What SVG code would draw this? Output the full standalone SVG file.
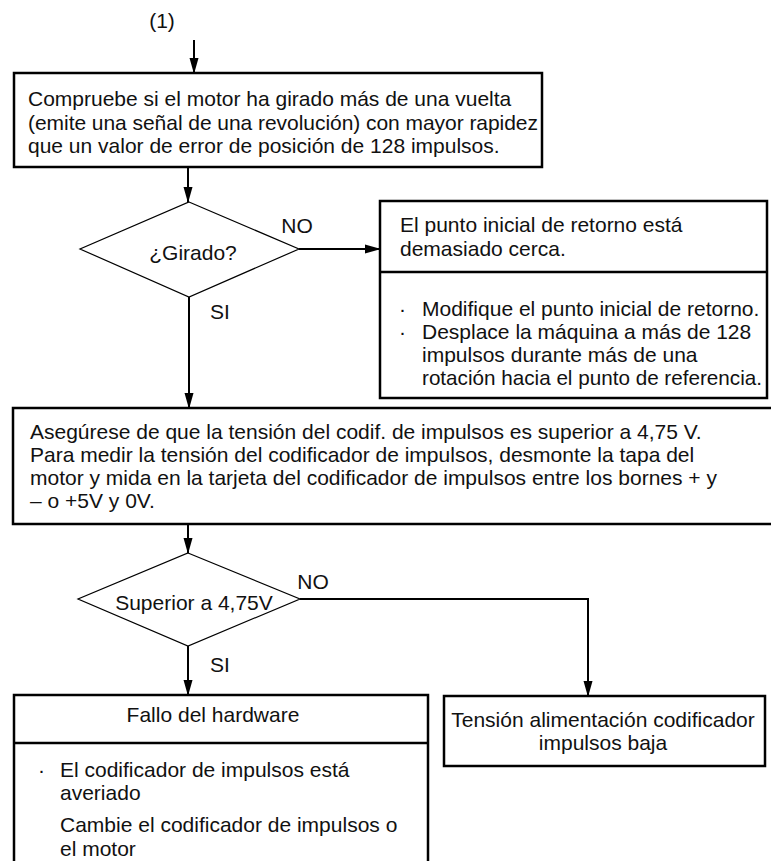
<svg xmlns="http://www.w3.org/2000/svg" width="771" height="861" viewBox="0 0 771 861">
  <defs>
    <marker id="arrow" markerWidth="16" markerHeight="10" refX="16" refY="5" orient="auto" markerUnits="userSpaceOnUse" viewBox="0 0 16 10">
      <path d="M0,0.5 L16,5 L0,9.5 z" fill="#000"/>
    </marker>
    <style>
      .box { fill: #fff; stroke: #000; stroke-width: 2.5; }
      .dia { fill: #fff; stroke: #000; stroke-width: 1.2; }
      .sep { stroke: #000; stroke-width: 2.5; }
      .wire { fill: none; stroke: #000; stroke-width: 2; }
      .arr { marker-end: url(#arrow); }
      text { font-family: "Liberation Sans", Arial, Helvetica, sans-serif; font-size: 21px; fill: #111; }
      .c { text-anchor: middle; }
    </style>
  </defs>
  <rect width="771" height="861" fill="#fff"/>

  <!-- connectors -->
  <g id="connectors">
    <line class="wire arr" x1="194" y1="40" x2="194" y2="74"/>
    <line class="wire arr" x1="188" y1="167" x2="188" y2="203"/>
    <line class="wire arr" x1="299" y1="249" x2="381" y2="249"/>
    <line class="wire arr" x1="189" y1="297" x2="189" y2="409"/>
    <line class="wire arr" x1="188" y1="524" x2="188" y2="554"/>
    <line class="wire arr" x1="188" y1="646" x2="188" y2="696"/>
    <polyline class="wire arr" points="300,599 588,599 588,697"/>
    <text class="c" x="297" y="233">NO</text>
    <text class="c" x="220" y="319">SI</text>
    <text class="c" x="313" y="589">NO</text>
    <text class="c" x="220" y="672">SI</text>
  </g>

  <!-- entry label -->
  <g id="start">
    <text class="c" x="162" y="28">(1)</text>
  </g>

  <g id="check-rotation">
    <rect class="box" x="14" y="73" width="528" height="94"/>
    <text x="28" y="106">Compruebe si el motor ha girado más de una vuelta</text>
    <text x="28" y="130" textLength="510" lengthAdjust="spacing">(emite una señal de una revolución) con mayor rapidez</text>
    <text x="28" y="153">que un valor de error de posición de 128 impulsos.</text>
  </g>

  <g id="decision-rotated">
    <polygon class="dia" points="189,202 299,249 189,297 80,249"/>
    <text class="c" x="193" y="260">¿Girado?</text>
  </g>

  <g id="start-too-close">
    <rect class="box" x="380" y="201" width="387" height="197"/>
    <line class="sep" x1="380" y1="272" x2="767" y2="272"/>
    <text x="400" y="232">El punto inicial de retorno está</text>
    <text x="400" y="256">demasiado cerca.</text>
    <text x="399" y="316">·</text>
    <text x="422" y="316">Modifique el punto inicial de retorno.</text>
    <text x="399" y="339">·</text>
    <text x="422" y="339">Desplace la máquina a más de 128</text>
    <text x="422" y="362">impulsos durante más de una</text>
    <text x="422" y="385" textLength="340" lengthAdjust="spacingAndGlyphs">rotación hacia el punto de referencia.</text>
  </g>

  <g id="check-voltage">
    <rect class="box" x="13" y="408" width="770" height="116"/>
    <text x="30" y="439">Asegúrese de que la tensión del codif. de impulsos es superior a 4,75 V.</text>
    <text x="30" y="462">Para medir la tensión del codificador de impulsos, desmonte la tapa del</text>
    <text x="30" y="485">motor y mida en la tarjeta del codificador de impulsos entre los bornes + y</text>
    <text x="30" y="508">– o +5V y 0V.</text>
  </g>

  <g id="decision-voltage">
    <polygon class="dia" points="188,553 300,599 188,646 78,599"/>
    <text class="c" x="194" y="610">Superior a 4,75V</text>
  </g>

  <g id="hardware-fault">
    <rect class="box" x="14" y="695" width="414" height="180"/>
    <line class="sep" x1="14" y1="743" x2="428" y2="743"/>
    <text class="c" x="213" y="722">Fallo del hardware</text>
    <text x="38" y="777">·</text>
    <text x="60" y="777">El codificador de impulsos está</text>
    <text x="60" y="800">averiado</text>
    <text x="60" y="832">Cambie el codificador de impulsos o</text>
    <text x="60" y="856">el motor</text>
  </g>

  <g id="low-supply">
    <rect class="box" x="444" y="696" width="321" height="70"/>
    <text class="c" x="603" y="727">Tensión alimentación codificador</text>
    <text class="c" x="603" y="750">impulsos baja</text>
  </g>
</svg>
